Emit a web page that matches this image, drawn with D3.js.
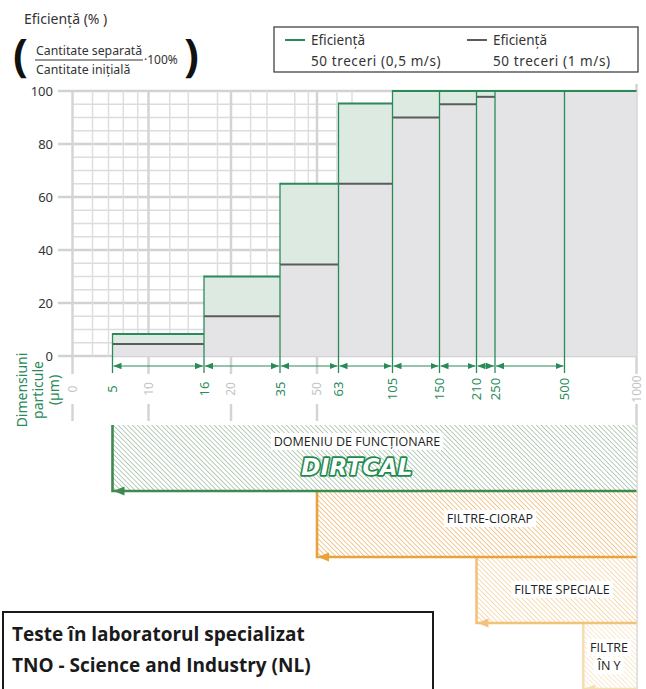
<!DOCTYPE html>
<html>
<head>
<meta charset="utf-8">
<script src="https://cdn.jsdelivr.net/npm/d3@7"></script>
<style>
  body { margin: 0; background: #fff; }
  svg { display: block; font-family: "Noto Sans", sans-serif; }
</style>
</head>
<body>
<svg id="chart" width="646" height="689"></svg>
<script>
// particle size class edges (µm) and efficiency per class (%)
var sizeEdges = [5, 16, 35, 63, 105, 150, 210, 250, 500, 1000];
var eff05 = [8.3, 30, 65, 95.3, 100, 100, 100, 100, 100];   // 50 treceri (0,5 m/s)
var eff1 = [4.5, 15, 34.5, 65, 90, 95, 97.8, 100, 100];     // 50 treceri (1 m/s)
var greenTicks = [5, 16, 35, 63, 105, 150, 210, 250, 500];
var greyTicks = [0, 10, 20, 50, 1000];
var minorGrid = [2.5, 4.5, 6.5, 8.5, 12.3, 14.3, 18, 26, 31, 41, 46.5, 62, 73.5];
var yTicks = [0, 20, 40, 60, 80, 100];
var yMinor = d3.range(0, 101, 5);

// operating ranges
var rangeNames = ["DOMENIU DE FUNCȚIONARE", "FILTRE-CIORAP", "FILTRE SPECIALE", "FILTRE ÎN Y"];
var rangeFrom = [5, 50, 210, 630];
var rangeTo = 1000;

var green = "#2a8a5a";
var svg = d3.select("#chart");

// the drawing uses an irregular size axis -> piecewise linear scale
var xKnots = [0, 5, 10, 16, 20, 35, 50, 63, 105, 150, 210, 250, 500, 1000];
var xPos = [72.5, 112.5, 148.5, 204, 231, 280, 317, 338.5, 392.5, 439.5, 476.5, 495, 564.5, 636.5];
var x = d3.scaleLinear().domain(xKnots).range(xPos);
var y = d3.scaleLinear().domain([0, 100]).range([356, 91]);
var rowY = d3.scaleLinear().domain([0, 4]).range([425, 689]);

var defs = svg.append("defs");

// hatch patterns for the operating ranges
var edgeCol = ["#3f8a4f", "#e9a23c", "#f2c27a", "#f7ddb2"];
var hatchCol = ["#a8c0ab", "#efbb76", "#f5d4a0", "#f9e5c6"];
hatchCol.forEach(function(c, i) {
  var p = defs.append("pattern")
    .attr("id", "hatch" + i)
    .attr("patternUnits", "userSpaceOnUse")
    .attr("width", 3.4).attr("height", 3.4)
    .attr("patternTransform", "rotate(-45)");
  p.append("rect").attr("width", 3.4).attr("height", 3.4).attr("fill", "#fff");
  p.append("line").attr("x1", 0).attr("y1", 0).attr("x2", 0).attr("y2", 3.4)
    .attr("stroke", c).attr("stroke-width", 1.6);
});

defs.append("marker")
  .attr("id", "arr")
  .attr("viewBox", "0 -4 8 8")
  .attr("refX", 8).attr("refY", 0)
  .attr("markerUnits", "userSpaceOnUse")
  .attr("markerWidth", 8).attr("markerHeight", 8)
  .attr("orient", "auto-start-reverse")
  .append("path").attr("d", "M0,-3.2L8,0L0,3.2Z").attr("fill", green);

// ---- grid ----
var grid = svg.append("g");
grid.selectAll(".hmin").data(yMinor).enter().append("line")
  .attr("x1", function(d) { return d % 20 == 0 ? 58 : x(0); })
  .attr("x2", x(1000))
  .attr("y1", function(d) { return y(d); })
  .attr("y2", function(d) { return y(d); })
  .attr("stroke", function(d) { return d % 20 == 0 ? "#d2d2d2" : "#dcdcdc"; })
  .attr("stroke-width", function(d) { return d % 20 == 0 ? 2.5 : 1.5; });

grid.selectAll(".vmin").data(minorGrid).enter().append("line")
  .attr("x1", function(d) { return x(d); })
  .attr("x2", function(d) { return x(d); })
  .attr("y1", y(100)).attr("y2", y(0))
  .attr("stroke", "#dedede").attr("stroke-width", 1.5);

grid.selectAll(".vmaj").data(greyTicks).enter().append("line")
  .attr("x1", function(d) { return x(d); })
  .attr("x2", function(d) { return x(d); })
  .attr("y1", function(d) { return d == 1000 ? 84 : y(100); })
  .attr("y2", 374)
  .attr("stroke", "#d4d4d4").attr("stroke-width", 2.5);

grid.selectAll(".vlow").data(greyTicks).enter().append("line")
  .attr("x1", function(d) { return x(d); })
  .attr("x2", function(d) { return x(d); })
  .attr("y1", 404)
  .attr("y2", function(d) { return d == 1000 ? 689 : 421; })
  .attr("stroke", "#d4d4d4").attr("stroke-width", 2.5);

// ---- efficiency steps ----
var idx = d3.range(eff05.length);
var bars = svg.append("g");
bars.selectAll(".g05").data(idx).enter().append("rect")
  .attr("x", function(i) { return x(sizeEdges[i]); })
  .attr("width", function(i) { return x(sizeEdges[i + 1]) - x(sizeEdges[i]); })
  .attr("y", function(i) { return y(eff05[i]); })
  .attr("height", function(i) { return y(eff1[i]) - y(eff05[i]); })
  .attr("fill", "#dceae2");
bars.selectAll(".g1").data(idx).enter().append("rect")
  .attr("x", function(i) { return x(sizeEdges[i]); })
  .attr("width", function(i) { return x(sizeEdges[i + 1]) - x(sizeEdges[i]); })
  .attr("y", function(i) { return y(eff1[i]); })
  .attr("height", function(i) { return y(0) - y(eff1[i]); })
  .attr("fill", "#e4e4e6");
bars.selectAll(".l1").data(idx.filter(function(i) { return eff1[i] < 100; })).enter().append("line")
  .attr("x1", function(i) { return x(sizeEdges[i]); })
  .attr("x2", function(i) { return x(sizeEdges[i + 1]); })
  .attr("y1", function(i) { return y(eff1[i]); })
  .attr("y2", function(i) { return y(eff1[i]); })
  .attr("stroke", "#5b5b5b").attr("stroke-width", 2);
bars.selectAll(".l05").data(idx).enter().append("line")
  .attr("x1", function(i) { return x(sizeEdges[i]); })
  .attr("x2", function(i) { return x(sizeEdges[i + 1]); })
  .attr("y1", function(i) { return y(eff05[i]); })
  .attr("y2", function(i) { return y(eff05[i]); })
  .attr("stroke", green).attr("stroke-width", 2);

// vertical class borders down to the size row
bars.selectAll(".vb").data(greenTicks).enter().append("line")
  .attr("x1", function(d) { return x(d); })
  .attr("x2", function(d) { return x(d); })
  .attr("y1", function(d, j) {
    var top = j == 0 ? eff05[0] : Math.max(eff05[j - 1], eff05[j]);
    return y(top) - 1;
  })
  .attr("y2", 373)
  .attr("stroke", green).attr("stroke-width", 1.3);

// double arrows between class borders
bars.selectAll(".arrow").data(d3.range(greenTicks.length - 1)).enter().append("line")
  .attr("x1", function(j) { return x(greenTicks[j]) + 1; })
  .attr("x2", function(j) { return x(greenTicks[j + 1]) - 1; })
  .attr("y1", 366).attr("y2", 366)
  .attr("stroke", green).attr("stroke-width", 1)
  .attr("marker-start", "url(#arr)")
  .attr("marker-end", "url(#arr)");

// ---- axis labels ----
svg.selectAll(".ylab").data(yTicks).enter().append("text")
  .attr("x", 53)
  .attr("y", function(d) { return y(d); })
  .attr("dy", "0.35em")
  .attr("text-anchor", "end")
  .attr("font-size", 13).attr("fill", "#333")
  .text(function(d) { return d; });

svg.selectAll(".gtick").data(greenTicks).enter().append("text")
  .attr("transform", function(d) { return "translate(" + x(d) + ",389) rotate(-90)"; })
  .attr("dy", "0.35em")
  .attr("text-anchor", "middle")
  .attr("font-size", 13).attr("fill", green)
  .text(function(d) { return d; });

svg.selectAll(".ytick").data(greyTicks).enter().append("text")
  .attr("transform", function(d) { return "translate(" + x(d) + ",389) rotate(-90)"; })
  .attr("dy", "0.35em")
  .attr("text-anchor", "middle")
  .attr("font-size", 12).attr("fill", "#c4c4c4")
  .text(function(d) { return d; });

var dimLines = ["Dimensiuni", "particule", "(µm)"];
svg.selectAll(".dim").data(dimLines).enter().append("text")
  .attr("transform", function(d, i) { return "translate(" + (27 + i * 16) + ",390) rotate(-90)"; })
  .attr("text-anchor", "middle")
  .attr("font-size", 14).attr("fill", green)
  .text(function(d) { return d; });

// ---- y title with formula ----
svg.append("text").attr("x", 24).attr("y", 24)
  .attr("font-size", 14).attr("fill", "#333").text("Eficiență (%  )");
svg.append("text").attr("x", 13).attr("y", 71)
  .attr("font-size", 44).attr("font-weight", "bold").attr("fill", "#111").text("(");
svg.append("text").attr("x", 36).attr("y", 55)
  .attr("font-size", 12.3).attr("fill", "#333").text("Cantitate separată");
svg.append("line").attr("x1", 35).attr("x2", 143).attr("y1", 60).attr("y2", 60)
  .attr("stroke", "#333").attr("stroke-width", 1);
svg.append("text").attr("x", 36).attr("y", 74)
  .attr("font-size", 12.3).attr("fill", "#333").text("Cantitate inițială");
svg.append("text").attr("x", 144).attr("y", 64)
  .attr("font-size", 12).attr("fill", "#333").text("·100%");
svg.append("text").attr("x", 184).attr("y", 71)
  .attr("font-size", 44).attr("font-weight", "bold").attr("fill", "#111").text(")");

// ---- legend ----
var leg = svg.append("g");
leg.append("rect").attr("x", 274).attr("y", 27).attr("width", 364).attr("height", 45)
  .attr("fill", "#fff").attr("stroke", "#333").attr("stroke-width", 1.2);
var legItems = [
  { col: green, x: 285, t: ["Eficiență", "50 treceri (0,5 m/s)"] },
  { col: "#5b5b5b", x: 467, t: ["Eficiență", "50 treceri (1 m/s)"] }
];
legItems.forEach(function(it) {
  leg.append("line").attr("x1", it.x).attr("x2", it.x + 20).attr("y1", 40).attr("y2", 40)
    .attr("stroke", it.col).attr("stroke-width", 2);
  leg.append("text").attr("x", it.x + 26).attr("y", 45)
    .attr("font-size", 13.5).attr("fill", "#333").text(it.t[0]);
  leg.append("text").attr("x", it.x + 26).attr("y", 66)
    .attr("font-size", 13.5).attr("fill", "#333").attr("letter-spacing", 0.6).text(it.t[1]);
});

// ---- operating ranges ----
var rg = svg.append("g");
var ri = d3.range(rangeNames.length);
rg.selectAll(".rfill").data(ri).enter().append("rect")
  .attr("x", function(i) { return x(rangeFrom[i]); })
  .attr("width", function(i) { return x(rangeTo) - x(rangeFrom[i]); })
  .attr("y", function(i) { return rowY(i); })
  .attr("height", function(i) { return rowY(i + 1) - rowY(i); })
  .attr("fill", function(i) { return "url(#hatch" + i + ")"; });

ri.slice().reverse().forEach(function(i) {
  var x0 = x(rangeFrom[i]), x1 = x(rangeTo), y0 = rowY(i), y1 = rowY(i + 1);
  rg.append("path")
    .attr("d", "M" + x0 + "," + y0 + "V" + y1 + "H" + x1)
    .attr("fill", "none").attr("stroke", edgeCol[i]).attr("stroke-width", 2.6);
  rg.append("path")
    .attr("d", "M" + (x0 + 1) + "," + y1 + "l11,-4.5v9z")
    .attr("fill", edgeCol[i]);
});

function labelBox(txt, cx, cy, size) {
  var t = rg.append("text").attr("x", cx).attr("y", cy)
    .attr("text-anchor", "middle").attr("font-family", "Open Sans")
    .attr("font-size", size).attr("fill", "#222").text(txt);
  var b = t.node().getBBox();
  rg.insert("rect", function() { return t.node(); })
    .attr("x", b.x - 3).attr("y", b.y).attr("width", b.width + 6).attr("height", b.height)
    .attr("fill", "#fff");
  return t;
}
labelBox(rangeNames[0], 357, 446, 12.5);
labelBox(rangeNames[1], 490, 523, 12.5);
labelBox(rangeNames[2], 562, 594, 12.5);
labelBox("FILTRE", 609, 652, 12.5);
labelBox("ÎN Y", 609, 670, 12.5);

rg.append("text").attr("x", 357).attr("y", 475)
  .attr("text-anchor", "middle")
  .attr("font-family", "DejaVu Sans").attr("font-weight", "bold").attr("font-style", "italic")
  .attr("font-size", 23).attr("letter-spacing", 0.3)
  .attr("fill", "#fff").attr("stroke", "#1f8a4c").attr("stroke-width", 3.4)
  .attr("stroke-linejoin", "round")
  .attr("paint-order", "stroke")
  .text("DIRTCAL");

// ---- test note ----
var note = svg.append("g");
note.append("rect").attr("x", 3).attr("y", 612).attr("width", 430).attr("height", 90)
  .attr("fill", "#fff").attr("stroke", "#1a1a1a").attr("stroke-width", 2);
note.append("text").attr("x", 12).attr("y", 641)
  .attr("font-family", "Open Sans").attr("font-weight", "bold").attr("font-size", 19)
  .attr("fill", "#1a1a1a").text("Teste în laboratorul specializat");
note.append("text").attr("x", 12).attr("y", 672)
  .attr("font-family", "Open Sans").attr("font-weight", "bold").attr("font-size", 19)
  .attr("fill", "#1a1a1a").text("TNO - Science and Industry (NL)");
</script>
</body>
</html>
